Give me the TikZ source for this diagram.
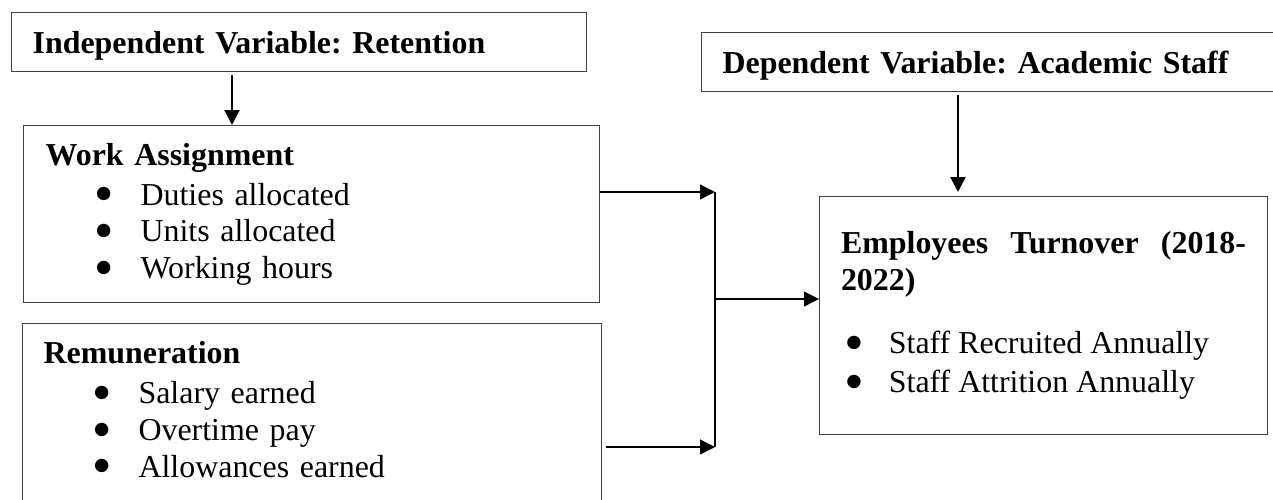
\documentclass[tikz,border=0pt]{standalone}
\usepackage{fontspec}
\setmainfont{Liberation Serif}
\newfontfamily\symfont{DejaVu Sans}
\usetikzlibrary{arrows.meta}

\newcommand{\bigbul}{\raisebox{2.3pt}{\symfont\fontsize{6.6}{6.6}\selectfont ●}}
\newcommand{\bulitem}[1]{\hspace*{19pt}\makebox[16.7pt][l]{\bigbul}#1}
\newcommand{\empitem}[1]{\hspace*{2pt}\makebox[16pt][l]{\bigbul}#1}

\begin{document}
\frenchspacing
\begin{tikzpicture}[x=0.376pt, y=-0.376pt]
            \tikzset{varbox/.style={draw=black!75, line width=0.45pt, anchor=north west, inner xsep=7.9pt, inner ysep=0pt, align=left, font=\fontsize{12}{13.8}\selectfont},
                     thickarrow/.style={-{Triangle[length=5.6pt,width=5.6pt]}, line width=0.85pt},
                     thinarrow/.style={-{Triangle[length=5.6pt,width=5.6pt]}, line width=0.45pt}}

            \useasboundingbox (0,0) rectangle (1273,499);

            \node[varbox, text width=200.4pt, minimum height=22.2pt, text depth=0pt] (indep) at (11,12)
                {\textbf{Independent Variable: Retention}};
            \node[varbox, text width=206pt, minimum height=22.2pt, text depth=0pt] (dep) at (701,32)
                {\textbf{Dependent Variable: Academic Staff}};

            \node[varbox, inner xsep=8.3pt, text width=200pt, minimum height=66.6pt] (work) at (23,125)
                {\textbf{Work Assignment}\\[1.2pt]
                 \bulitem{Duties allocated}\\
                 \bulitem{Units allocated}\\
                 \bulitem{Working hours}};
            \node[varbox, text width=201.9pt, minimum height=72pt] (rem) at (22,323)
                {\textbf{Remuneration}\\[1.2pt]
                 \bulitem{Salary earned}\\
                 \bulitem{Overtime pay}\\
                 \bulitem{Allowances earned\rule[-7.5pt]{0pt}{7.5pt}}};

            \node[varbox, align=justify, text width=152.3pt, minimum width=168.4pt, minimum height=89.5pt] (emp) at (819,196)
                {\textbf{Employees Turnover (2018-\linebreak 2022)}\\[9.8pt]
                 \empitem{Staff Recruited Annually}\\[0.9pt]
                 \empitem{Staff Attrition Annually}};

            \coordinate (ia) at (232,0);
            \coordinate (da) at (958,0);
            \coordinate (jt) at (715,192);
            \coordinate (jm) at (715,299);
            \coordinate (jb) at (715,447);

            \draw[thickarrow, shorten <=1pt] (indep.south -| ia) -- (work.north -| ia);
            \draw[thickarrow, shorten <=1.2pt, shorten >=1.5pt] (dep.south -| da) -- (emp.north -| da);

            \draw[thinarrow] (work.east |- jt) -- (jt);
            \draw[thinarrow, shorten <=1.5pt] (rem.east |- jb) -- (jb);
            \draw[line width=0.45pt] (jt) -- (jb);
            \draw[thinarrow] (jm) -- (emp.west |- jm);
\end{tikzpicture}
\end{document}
